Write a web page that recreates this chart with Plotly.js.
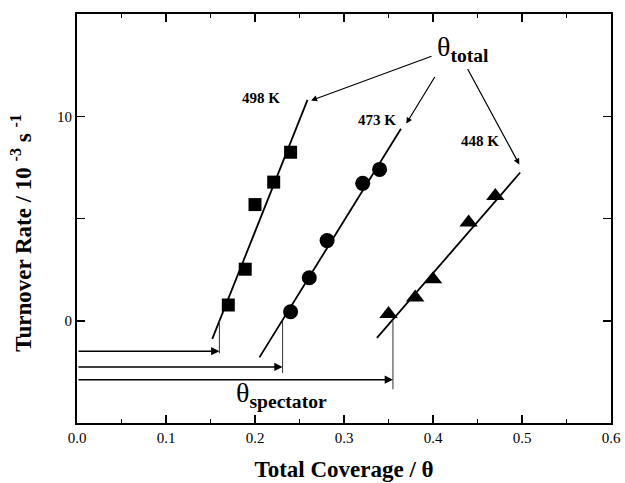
<!DOCTYPE html>
<html>
<head>
<meta charset="utf-8">
<script src="https://cdn.plot.ly/plotly-3.0.1.min.js"></script>
<style>html,body{margin:0;padding:0;background:#fff;}#chart{width:625px;height:483px;}</style>
</head>
<body>
<div id="chart"></div>
<script>
// Data
const cov498 = [0.170, 0.189, 0.200, 0.221, 0.240];
const rate498 = [0.77, 2.52, 5.68, 6.78, 8.24];
const cov473 = [0.240, 0.261, 0.281, 0.321, 0.340];
const rate473 = [0.44, 2.10, 3.92, 6.72, 7.40];
const cov448 = [0.350, 0.380, 0.400, 0.440, 0.470];
const rate448 = [0.33, 1.14, 2.03, 4.80, 6.10];

// Fitted line end points
const fitX498 = [0.152, 0.259];
const fitY498 = [-0.89, 10.8];
const fitX473 = [0.205, 0.364];
const fitY473 = [-1.79, 9.39];
const fitX448 = [0.337, 0.498];
const fitY448 = [-0.84, 7.25];

// Spectator coverage (zero-rate intercepts)
const thetaSpectator = [0.160, 0.231, 0.355];
const dropEnd = [-1.6, -2.55, -3.35];
const arrowLevel = [-1.49, -2.26, -2.88];

const xTickVals = [0, 0.1, 0.2, 0.3, 0.4, 0.5, 0.6];
const xTickText = ['0.0', '0.1', '0.2', '0.3', '0.4', '0.5', '0.6'];
const yTickVals = [-5, 0, 5, 10, 15];
const yTickText = ['', '0', '', '10', ''];

const serif = 'Liberation Serif, Times New Roman, serif';

const traces = [];
function fit(x, y) {
  traces.push({x: x, y: y, type: 'scatter', mode: 'lines', line: {color: '#000', width: 1.8}, hoverinfo: 'skip', showlegend: false});
}
fit(fitX498, fitY498);
fit(fitX473, fitY473);
fit(fitX448, fitY448);

thetaSpectator.forEach((t, i) => {
  traces.push({x: [t, t], y: [0, dropEnd[i]], type: 'scatter', mode: 'lines', line: {color: '#333', width: 1}, hoverinfo: 'skip', showlegend: false});
});

traces.push({x: cov498, y: rate498, type: 'scatter', mode: 'markers', marker: {symbol: 'square', size: 13, color: '#000'}, showlegend: false});
traces.push({x: cov473, y: rate473, type: 'scatter', mode: 'markers', marker: {symbol: 'circle', size: 15, color: '#000'}, showlegend: false});
traces.push({x: cov448, y: rate448, type: 'scatter', mode: 'markers', marker: {symbol: 'triangle-up', size: 16, color: '#000'}, showlegend: false});

const annotations = [];
// horizontal spectator arrows
thetaSpectator.forEach((t, i) => {
  annotations.push({x: t, y: arrowLevel[i], ax: 0, ay: arrowLevel[i], xref: 'x', yref: 'y', axref: 'x', ayref: 'y',
    text: '', showarrow: true, arrowhead: 2, arrowsize: 1.1, arrowwidth: 1.5, arrowcolor: '#000', standoff: 0});
});
// theta total arrows
const totalArrows = [
  {x: 0.263, y: 10.77, ax: 0.400, ay: 12.96},
  {x: 0.370, y: 9.64, ax: 0.403, ay: 11.99},
  {x: 0.497, y: 7.64, ax: 0.438, ay: 12.38}
];
totalArrows.forEach(a => {
  annotations.push({x: a.x, y: a.y, ax: a.ax, ay: a.ay, xref: 'x', yref: 'y', axref: 'x', ayref: 'y',
    text: '', showarrow: true, arrowhead: 2, arrowsize: 1, arrowwidth: 1.2, arrowcolor: '#000', standoff: 0});
});
// labels
function label(x, y, text, size) {
  annotations.push({x: x, y: y, xref: 'x', yref: 'y', text: text, showarrow: false,
    font: {family: serif, size: size, color: '#000'}, xanchor: 'center', yanchor: 'middle'});
}
label(0.207, 10.9, '<b>498 K</b>', 15);
label(0.337, 9.8, '<b>473 K</b>', 15);
label(0.453, 8.8, '<b>448 K</b>', 15);
label(0.434, 13.3, 'θ<sub><b>total</b></sub>', 28);
label(0.230, -3.6, 'θ<sub><b>spectator</b></sub>', 28);

// y-axis title as a rotated annotation (to match vertical placement)
annotations.push({xref: 'paper', yref: 'paper', x: 0, y: 0.465, xshift: -55, xanchor: 'center', yanchor: 'middle',
  textangle: -90, showarrow: false,
  text: '<b>Turnover Rate / 10 <sup>-3</sup> s <sup>-1</sup></b>',
  font: {family: serif, size: 23, color: '#000'}});

const layout = {
  width: 625, height: 483,
  margin: {l: 77, r: 14, t: 14, b: 60},
  paper_bgcolor: '#fff', plot_bgcolor: '#fff',
  showlegend: false,
  xaxis: {
    range: [0, 0.6], showgrid: false, zeroline: false,
    showline: true, linecolor: '#000', linewidth: 2, mirror: 'allticks',
    ticks: 'inside', ticklen: 8, tickwidth: 1.5, tickcolor: '#000',
    tickvals: xTickVals, ticktext: xTickText,
    minor: {dtick: 0.05, ticks: 'inside', ticklen: 4, tickwidth: 1.2, tickcolor: '#000'},
    tickfont: {family: serif, size: 15, color: '#000'},
    title: {text: '<b>Total Coverage / θ</b>', font: {family: serif, size: 23, color: '#000'}, standoff: 16}
  },
  yaxis: {
    range: [-5, 15], showgrid: false, zeroline: false,
    showline: true, linecolor: '#000', linewidth: 2, mirror: 'allticks',
    ticks: 'inside', ticklen: 8, tickwidth: 1.5, tickcolor: '#000',
    tickvals: yTickVals, ticktext: yTickText,
    tickfont: {family: serif, size: 15, color: '#000'}
  },
  annotations: annotations
};

Plotly.newPlot('chart', traces, layout, {staticPlot: true, displayModeBar: false});
</script>
</body>
</html>
